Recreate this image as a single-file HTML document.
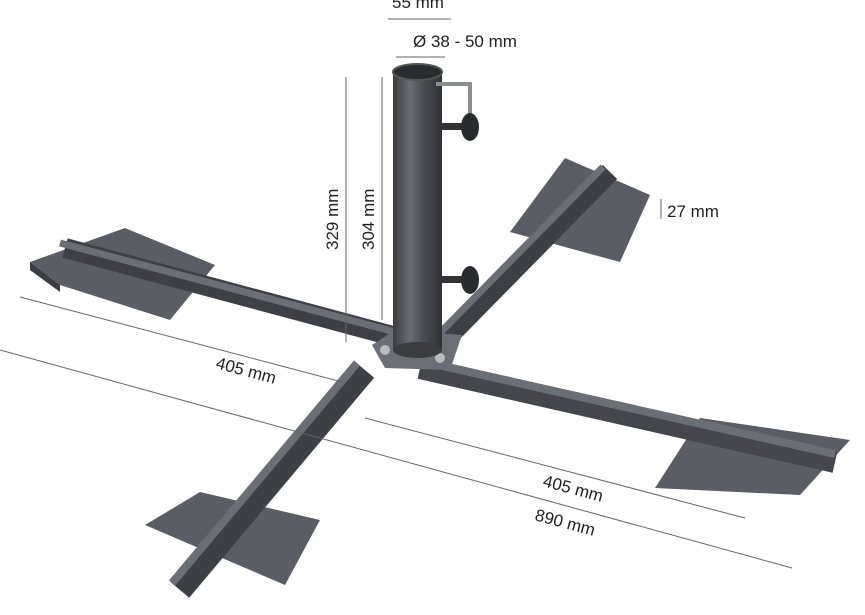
<!DOCTYPE html>
<html><head><meta charset="utf-8"><style>
html,body{margin:0;padding:0;background:#fff;}
svg{display:block;}
text{font-family:"Liberation Sans",sans-serif;font-size:17px;fill:#222;}
</style></head><body>
<svg width="865" height="615" viewBox="0 0 865 615" xmlns="http://www.w3.org/2000/svg">
<defs>
<linearGradient id="pole" x1="0" x2="1" y1="0" y2="0">
<stop offset="0" stop-color="#3a3c40"/><stop offset="0.35" stop-color="#6a6d73"/><stop offset="0.6" stop-color="#4b4e53"/><stop offset="1" stop-color="#2f3134"/>
</linearGradient>
</defs>
<!-- feet plates -->
<polygon points="30,262 125,228 215,265 170,320 60,285" fill="#5a5d63"/>
<polygon points="30,262 60,285 60,292 30,270" fill="#3a3c40"/>
<polygon points="510,232 565,158 650,195 620,262" fill="#5a5d63"/>
<polygon points="655,488 700,418 850,440 800,495" fill="#5a5d63"/>
<polygon points="145,525 200,492 320,520 285,585" fill="#5a5d63"/>
<!-- arms back -->
<line x1="65" y1="248" x2="400" y2="338" stroke="#3e4045" stroke-width="20"/>
<line x1="60" y1="243" x2="395" y2="332" stroke="#6b6e74" stroke-width="7"/>
<line x1="610" y1="172" x2="440" y2="345" stroke="#3e4045" stroke-width="20"/>
<line x1="603" y1="167" x2="433" y2="340" stroke="#6b6e74" stroke-width="7"/>
<!-- arms front -->
<line x1="420" y1="368" x2="835" y2="462" stroke="#45474c" stroke-width="22"/>
<line x1="420" y1="361" x2="835" y2="454" stroke="#6b6e74" stroke-width="8"/>
<line x1="365" y1="370" x2="180" y2="590" stroke="#3e4045" stroke-width="24"/>
<line x1="357" y1="363" x2="172" y2="583" stroke="#6b6e74" stroke-width="8"/>
<!-- base plate -->
<polygon points="372,345 395,330 462,335 450,370 385,368" fill="#6b6e74"/>
<circle cx="385" cy="350" r="5" fill="#bbb"/><circle cx="440" cy="358" r="5" fill="#bbb"/>
<!-- pole -->
<rect x="393" y="72" width="49" height="278" fill="url(#pole)"/>
<ellipse cx="417.5" cy="350" rx="24.5" ry="8" fill="#3a3c40"/>
<ellipse cx="417.5" cy="72" rx="24.5" ry="8" fill="#2a2b2e" stroke="#555" stroke-width="2"/>
<!-- bracket -->
<polyline points="436,84 470,84 470,118" fill="none" stroke="#8a8d92" stroke-width="4"/>
<!-- knobs -->
<rect x="442" y="123" width="20" height="7" fill="#333"/>
<ellipse cx="470" cy="127" rx="9" ry="14" fill="#2a2b2e"/>
<rect x="442" y="276" width="20" height="7" fill="#333"/>
<ellipse cx="470" cy="280" rx="9" ry="14" fill="#2a2b2e"/>
<!-- dimension lines -->
<g stroke="#666" stroke-width="1">
<line x1="388" y1="19" x2="451" y2="19"/>
<line x1="396" y1="57" x2="445" y2="57"/>
<line x1="346" y1="77" x2="346" y2="342"/>
<line x1="382" y1="77" x2="382" y2="320"/>
<line x1="661" y1="199" x2="661" y2="219"/>
<line x1="20" y1="297" x2="342" y2="382"/>
<line x1="0" y1="350" x2="792" y2="568"/>
<line x1="365" y1="418" x2="745" y2="518"/>
</g>
<text x="392" y="8">55 mm</text>
<text x="413" y="47">Ø 38 - 50 mm</text>
<text transform="translate(338,250) rotate(-90)">329 mm</text>
<text transform="translate(374,250) rotate(-90)">304 mm</text>
<text x="667" y="217">27 mm</text>
<text transform="translate(215,368) rotate(15)">405 mm</text>
<text transform="translate(542,486) rotate(15)">405 mm</text>
<text transform="translate(534,520) rotate(15)">890 mm</text>
</svg>
</body></html>
